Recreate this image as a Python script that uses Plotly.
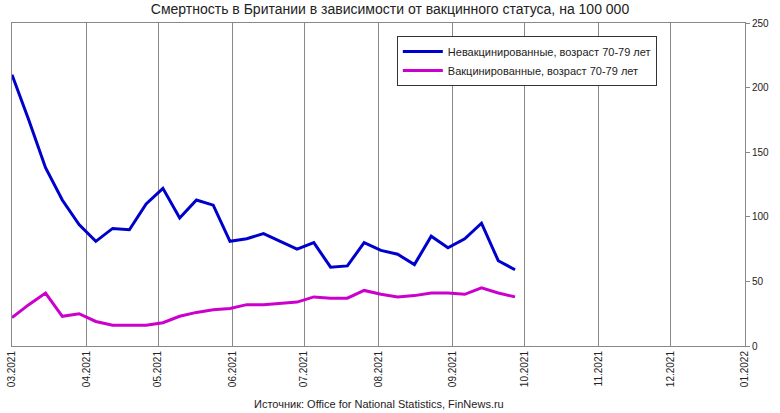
import plotly.graph_objects as go
import pandas as pd

dates = pd.date_range("2021-03-01", periods=31, freq="7D")
unvax = [210, 175, 138, 113, 94, 81, 91, 90, 110, 122, 99, 113, 109, 81, 83, 87,
         81, 75, 80, 61, 62, 80, 74, 71, 63, 85, 76, 83, 95, 66, 59]
vax = [22, 32, 41, 23, 25, 19, 16, 16, 16, 18, 23, 26, 28, 29, 32, 32,
       33, 34, 38, 37, 37, 43, 40, 38, 39, 41, 41, 40, 45, 41, 38]
month_ticks = pd.date_range("2021-03-01", "2022-01-01", freq="MS")
month_labels = [d.strftime("%m.%Y") for d in month_ticks]

fig = go.Figure()
fig.add_trace(go.Scatter(x=dates, y=unvax, mode="lines", name="Невакцинированные, возраст 70-79 лет",
                         line=dict(color="#0000cc", width=3)))
fig.add_trace(go.Scatter(x=dates, y=vax, mode="lines", name="Вакцинированные, возраст 70-79 лет",
                         line=dict(color="#cc00cc", width=3)))

fig.update_layout(
    width=780, height=413,
    paper_bgcolor="white", plot_bgcolor="white",
    margin=dict(l=12, r=35, t=23, b=67),
    font=dict(family="Liberation Sans, Arial", size=11, color="#222"),
    title=dict(text="Смертность в Британии в зависимости от вакцинного статуса, на 100 000",
               x=0.5, xanchor="center", y=0.99, yanchor="top", font=dict(size=14)),
    legend=dict(x=0.525, y=0.96, xanchor="left", yanchor="top", bordercolor="#333",
                borderwidth=1, bgcolor="white", font=dict(size=11), itemwidth=40),
    xaxis=dict(range=[month_ticks[0], month_ticks[-1]], tickvals=month_ticks, ticktext=month_labels,
               tickangle=-90, showgrid=True, gridcolor="#888", gridwidth=1, showline=True,
               linecolor="#888", mirror=True, ticks="", tickfont=dict(size=10), automargin=False),
    yaxis=dict(range=[0, 250], dtick=50, side="right", showgrid=False, showline=True,
               linecolor="#888", mirror=True, ticks="outside", ticklen=4, tickcolor="#888",
               tickfont=dict(size=10), automargin=False),
    annotations=[dict(text="Источник: Office for National Statistics, FinNews.ru", xref="paper",
                      yref="paper", x=0.5, y=-0.155, xanchor="center", yanchor="top",
                      showarrow=False, font=dict(size=11))],
)

fig.write_html("out.html", config={"displayModeBar": False},
               post_script="document.body.style.margin='0';")
